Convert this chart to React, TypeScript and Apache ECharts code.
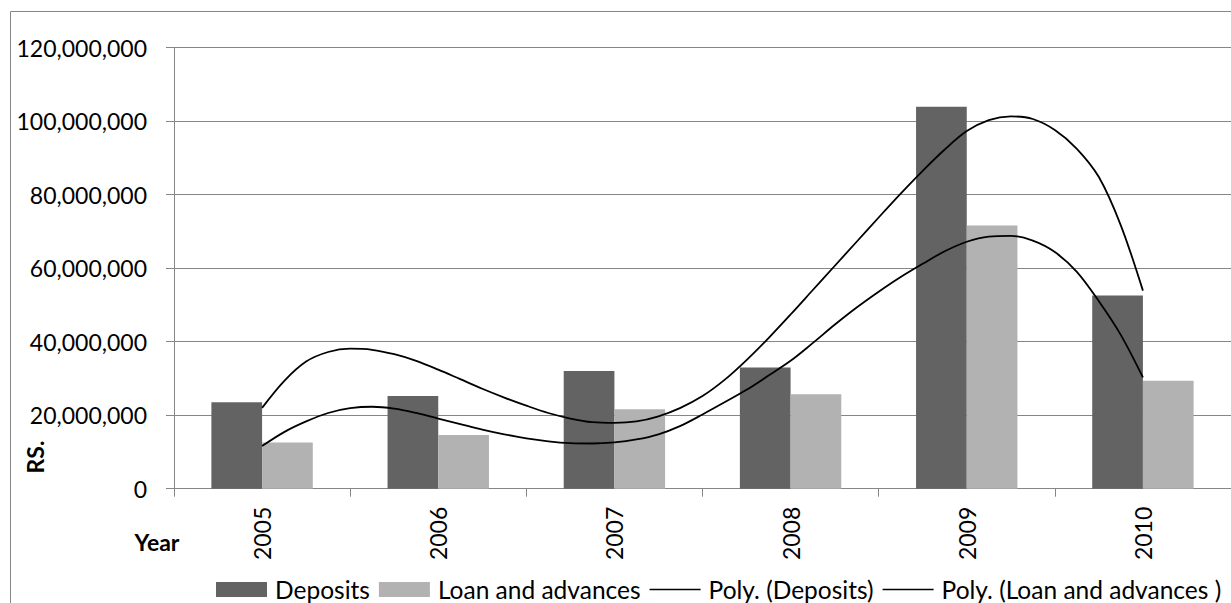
import React, { useEffect, useRef } from "react";
import * as echarts from "echarts";

// Financial years on the category axis
const years = ["2005", "2006", "2007", "2008", "2009", "2010"];

// Yearly totals in rupees
const deposits = [23.5e6, 25.2e6, 32.0e6, 33.0e6, 103.9e6, 52.6e6];
const loansAndAdvances = [12.6e6, 14.6e6, 21.6e6, 25.7e6, 71.6e6, 29.4e6];

// Polynomial trend curves, sampled every eighth of a category (millions)
const trendSteps = [
  0, 0.125, 0.25, 0.375, 0.5, 0.625, 0.75, 0.875,
  1, 1.125, 1.25, 1.375, 1.5, 1.625, 1.75, 1.875,
  2, 2.125, 2.25, 2.375, 2.5, 2.625, 2.75, 2.875,
  3, 3.125, 3.25, 3.375, 3.5, 3.625, 3.75, 3.875,
  4, 4.125, 4.25, 4.375, 4.5, 4.625, 4.75, 4.875, 5,
];
const depositsTrendM = [
  22.0, 29.3, 34.6, 37.2, 38.1, 37.8, 36.6, 34.8,
  32.4, 29.8, 27.2, 24.8, 22.6, 20.6, 19.1, 18.1,
  17.9, 18.3, 19.7, 22.0, 25.2, 29.6, 35.0, 41.0,
  47.4, 54.0, 60.6, 67.2, 73.8, 80.3, 86.5, 92.3,
  97.3, 100.3, 101.3, 100.6, 97.6, 92.5, 84.8, 71.6, 53.9,
];
const loansTrendM = [
  11.6, 15.4, 18.3, 20.6, 21.9, 22.3, 21.8, 20.6,
  19.1, 17.6, 16.1, 14.8, 13.7, 12.9, 12.4, 12.3,
  12.6, 13.4, 14.8, 17.1, 20.2, 23.5, 26.9, 30.8,
  34.8, 39.6, 44.6, 49.3, 53.6, 57.6, 61.2, 64.6,
  67.2, 68.6, 68.8, 67.5, 64.4, 59.0, 51.0, 41.8, 30.3,
];

const FONT = "Lato";
const GRID_GREY = "#868686";
const LINE_ICON = "path://M0,0H51V1.6H0Z";

const toPairs = (vals: number[]) =>
  trendSteps.map((x, i) => [x, vals[i] * 1e6]);

export default function App() {
  const ref = useRef<HTMLDivElement>(null);

  useEffect(() => {
    if (!ref.current) return;
    const chart = echarts.init(ref.current, null, { renderer: "svg" });
    chart.setOption({
      animation: false,
      backgroundColor: "#ffffff",
      textStyle: { fontFamily: FONT },
      grid: { left: 174, top: 47.7, right: -8.6, bottom: 114.3, containLabel: false },
      legend: {
        left: 216,
        top: 577,
        padding: 0,
        itemWidth: 51,
        itemHeight: 15,
        itemGap: 9,
        textStyle: {
          fontFamily: FONT,
          fontSize: 24.5,
          color: "#000",
          padding: [0, 0, 0, 3],
        },
        data: [
          { name: "Deposits", icon: "rect" },
          { name: "Loan and advances", icon: "rect" },
          { name: "Poly. (Deposits)", icon: LINE_ICON },
          { name: "Poly. (Loan and advances )", icon: LINE_ICON },
        ],
      },
      xAxis: [
        {
          type: "category",
          data: years,
          boundaryGap: true,
          axisLine: { lineStyle: { color: GRID_GREY, width: 1 } },
          axisTick: { show: true, length: 8, lineStyle: { color: GRID_GREY } },
          axisLabel: {
            rotate: 90,
            margin: 18,
            fontSize: 23,
            fontFamily: FONT,
            color: "#000",
          },
          splitLine: { show: false },
        },
        {
          // positions along the categories for the trend curves
          type: "value",
          min: -0.5,
          max: 5.5,
          show: false,
        },
      ],
      yAxis: {
        type: "value",
        min: 0,
        max: 120e6,
        interval: 20e6,
        axisLine: { show: true, onZero: false, lineStyle: { color: GRID_GREY, width: 1 } },
        axisTick: { show: true, length: 8, lineStyle: { color: GRID_GREY } },
        axisLabel: {
          margin: 27,
          fontSize: 23,
          fontFamily: FONT,
          color: "#000",
          formatter: (v: number) => v.toLocaleString("en-US"),
        },
        splitLine: { show: true, lineStyle: { color: GRID_GREY, width: 1 } },
      },
      graphic: [
        {
          type: "rect",
          silent: true,
          z: -10,
          shape: { x: 10.5, y: 11.5, width: 1300, height: 700 },
          style: { fill: "none", stroke: GRID_GREY, lineWidth: 1 },
        },
        {
          type: "text",
          x: 35,
          y: 457,
          rotation: Math.PI / 2,
          style: {
            text: "RS.",
            font: `bold 23px ${FONT}`,
            fill: "#000",
            align: "center",
            verticalAlign: "middle",
          },
        },
        {
          type: "text",
          x: 157,
          y: 542,
          style: {
            text: "Year",
            font: `bold 23px ${FONT}`,
            fill: "#000",
            align: "center",
            verticalAlign: "middle",
          },
        },
      ],
      series: [
        {
          name: "Deposits",
          type: "bar",
          data: deposits,
          barWidth: 50.7,
          barGap: "0%",
          itemStyle: { color: "#636363" },
        },
        {
          name: "Loan and advances",
          type: "bar",
          data: loansAndAdvances,
          barWidth: 50.7,
          barGap: "0%",
          itemStyle: { color: "#b2b2b2" },
        },
        {
          name: "Poly. (Deposits)",
          type: "line",
          xAxisIndex: 1,
          data: toPairs(depositsTrendM),
          smooth: 0.33,
          symbol: "none",
          color: "#000",
          lineStyle: { color: "#000", width: 1.8 },
          z: 5,
        },
        {
          name: "Poly. (Loan and advances )",
          type: "line",
          xAxisIndex: 1,
          data: toPairs(loansTrendM),
          smooth: 0.33,
          symbol: "none",
          color: "#000",
          lineStyle: { color: "#000", width: 1.8 },
          z: 5,
        },
      ],
    });
    return () => chart.dispose();
  }, []);

  return (
    <div
      ref={ref}
      style={{ position: "fixed", left: 0, top: 0, width: 1231, height: 603 }}
    />
  );
}
